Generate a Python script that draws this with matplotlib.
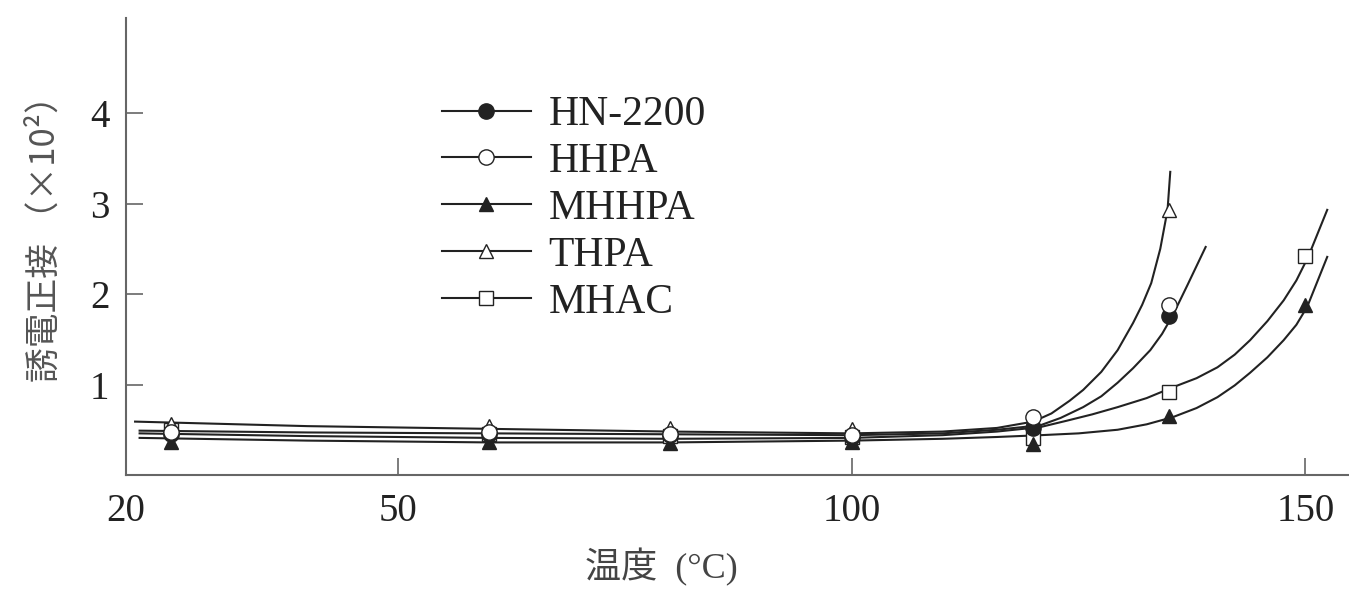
import matplotlib.pyplot as plt

# measured points (temperature in degC, tan delta x10^2)
temps = [25, 60, 80, 100, 120, 135]
temps_ext = [25, 60, 80, 100, 120, 135, 150]
hn2200 = [0.45, 0.45, 0.44, 0.42, 0.52, 1.76]
hhpa = [0.48, 0.47, 0.45, 0.44, 0.64, 1.88]
mhhpa = [0.36, 0.36, 0.35, 0.37, 0.34, 0.65, 1.88]
thpa = [0.56, 0.54, 0.52, 0.51, 0.63, 2.93]
mhac = [0.50, 0.45, 0.43, 0.42, 0.41, 0.92, 2.42]

# hand-drawn trend curves
thpa_cx = [21, 40, 60, 80, 100, 110, 116, 120, 122, 124, 125.5, 127.5, 129.3, 131, 132, 133, 134, 134.8, 135.1]
thpa_cy = [0.59, 0.54, 0.51, 0.48, 0.46, 0.48, 0.52, 0.59, 0.68, 0.82, 0.94, 1.14, 1.38, 1.68, 1.88, 2.12, 2.50, 2.93, 3.35]
hn_cx = [21.5, 40, 60, 80, 100, 110, 116, 120.8, 123, 125.5, 127.5, 129.3, 131, 132.9, 134.2, 135.4, 137, 139]
hn_cy = [0.49, 0.47, 0.46, 0.45, 0.44, 0.46, 0.50, 0.55, 0.63, 0.75, 0.87, 1.02, 1.18, 1.38, 1.56, 1.77, 2.10, 2.52]
mhac_cx = [21.5, 40, 60, 80, 100, 110, 116, 120.8, 123.7, 126.5, 129.3, 132.5, 135.4, 138, 140.3, 142.2, 143.9, 145.8, 147.6, 149, 150.3, 152.4]
mhac_cy = [0.46, 0.43, 0.41, 0.40, 0.41, 0.44, 0.48, 0.53, 0.60, 0.67, 0.75, 0.85, 0.97, 1.07, 1.19, 1.33, 1.49, 1.70, 1.93, 2.15, 2.41, 2.93]
mhhpa_cx = [21.5, 40, 60, 80, 100, 110, 116, 120.8, 125, 129.3, 132.5, 135.4, 138, 140.3, 142.2, 143.9, 145.8, 147.6, 149, 150.2, 152.4]
mhhpa_cy = [0.41, 0.38, 0.36, 0.36, 0.38, 0.40, 0.42, 0.44, 0.46, 0.50, 0.56, 0.64, 0.74, 0.86, 0.99, 1.13, 1.30, 1.49, 1.66, 1.86, 2.41]

ink = '#222222'
axis_grey = '#666666'

plt.rcParams['font.family'] = ['Liberation Serif', 'Noto Sans CJK JP']

fig = plt.figure(figsize=(13.49, 5.93), dpi=100)
ax = fig.add_axes([0.0934, 0.199, 0.9066, 0.7706])

for cx, cy in [(thpa_cx, thpa_cy), (hn_cx, hn_cy), (mhac_cx, mhac_cy), (mhhpa_cx, mhhpa_cy)]:
    ax.plot(cx, cy, color=ink, lw=1.5, zorder=2)

# (x, y, marker, face, size, name, zorder)
series = [
    (temps, hn2200, 'o', ink, 11, 'HN-2200', 4),
    (temps, hhpa, 'o', 'white', 11, 'HHPA', 5),
    (temps_ext, mhhpa, '^', ink, 10, 'MHHPA', 4),
    (temps, thpa, '^', 'white', 10, 'THPA', 3.5),
    (temps_ext, mhac, 's', 'white', 9.5, 'MHAC', 3),
]
handles = []
for x, y, m, fc, ms, name, z in series:
    ax.plot(x, y, linestyle='none', marker=m, markersize=ms,
            markerfacecolor=fc, markeredgecolor=ink, markeredgewidth=1.0, zorder=z)
    h, = ax.plot([], [], color=ink, lw=1.5, marker=m, markersize=ms,
                 markerfacecolor=fc, markeredgecolor=ink, markeredgewidth=1.0, label=name)
    handles.append(h)

leg = ax.legend(handles=handles, loc='upper left', bbox_to_anchor=(0.258, 0.83),
                frameon=False, fontsize=30, handlelength=2.15, handletextpad=0.42,
                labelspacing=0.2, borderpad=0, borderaxespad=0)
for t in leg.get_texts():
    t.set_color(ink)

ax.set_xlim(20, 154.8)
ax.set_ylim(0, 5.05)
ax.set_xticks([20, 50, 100, 150])
ax.set_yticks([1, 2, 3, 4])
ax.tick_params(axis='both', direction='in', length=12, width=1.2, color=axis_grey,
               labelsize=28, labelcolor=ink, pad=12)
ax.tick_params(axis='x', pad=13)

for side in ['top', 'right']:
    ax.spines[side].set_visible(False)
for side in ['left', 'bottom']:
    ax.spines[side].set_color(axis_grey)
    ax.spines[side].set_linewidth(1.5)

ax.set_xlabel('温度  (°C)', fontsize=26, color='#444444')
ax.xaxis.set_label_coords((661 - 126) / 1223, -0.16)
ax.set_ylabel('誘電正接 （×10²）', fontsize=25, color='#555555',
              family=['Noto Sans CJK JP', 'DejaVu Sans'])
ax.yaxis.set_label_coords(-0.052, (475 - 230) / 457)

fig.savefig('out.png', dpi=100)
